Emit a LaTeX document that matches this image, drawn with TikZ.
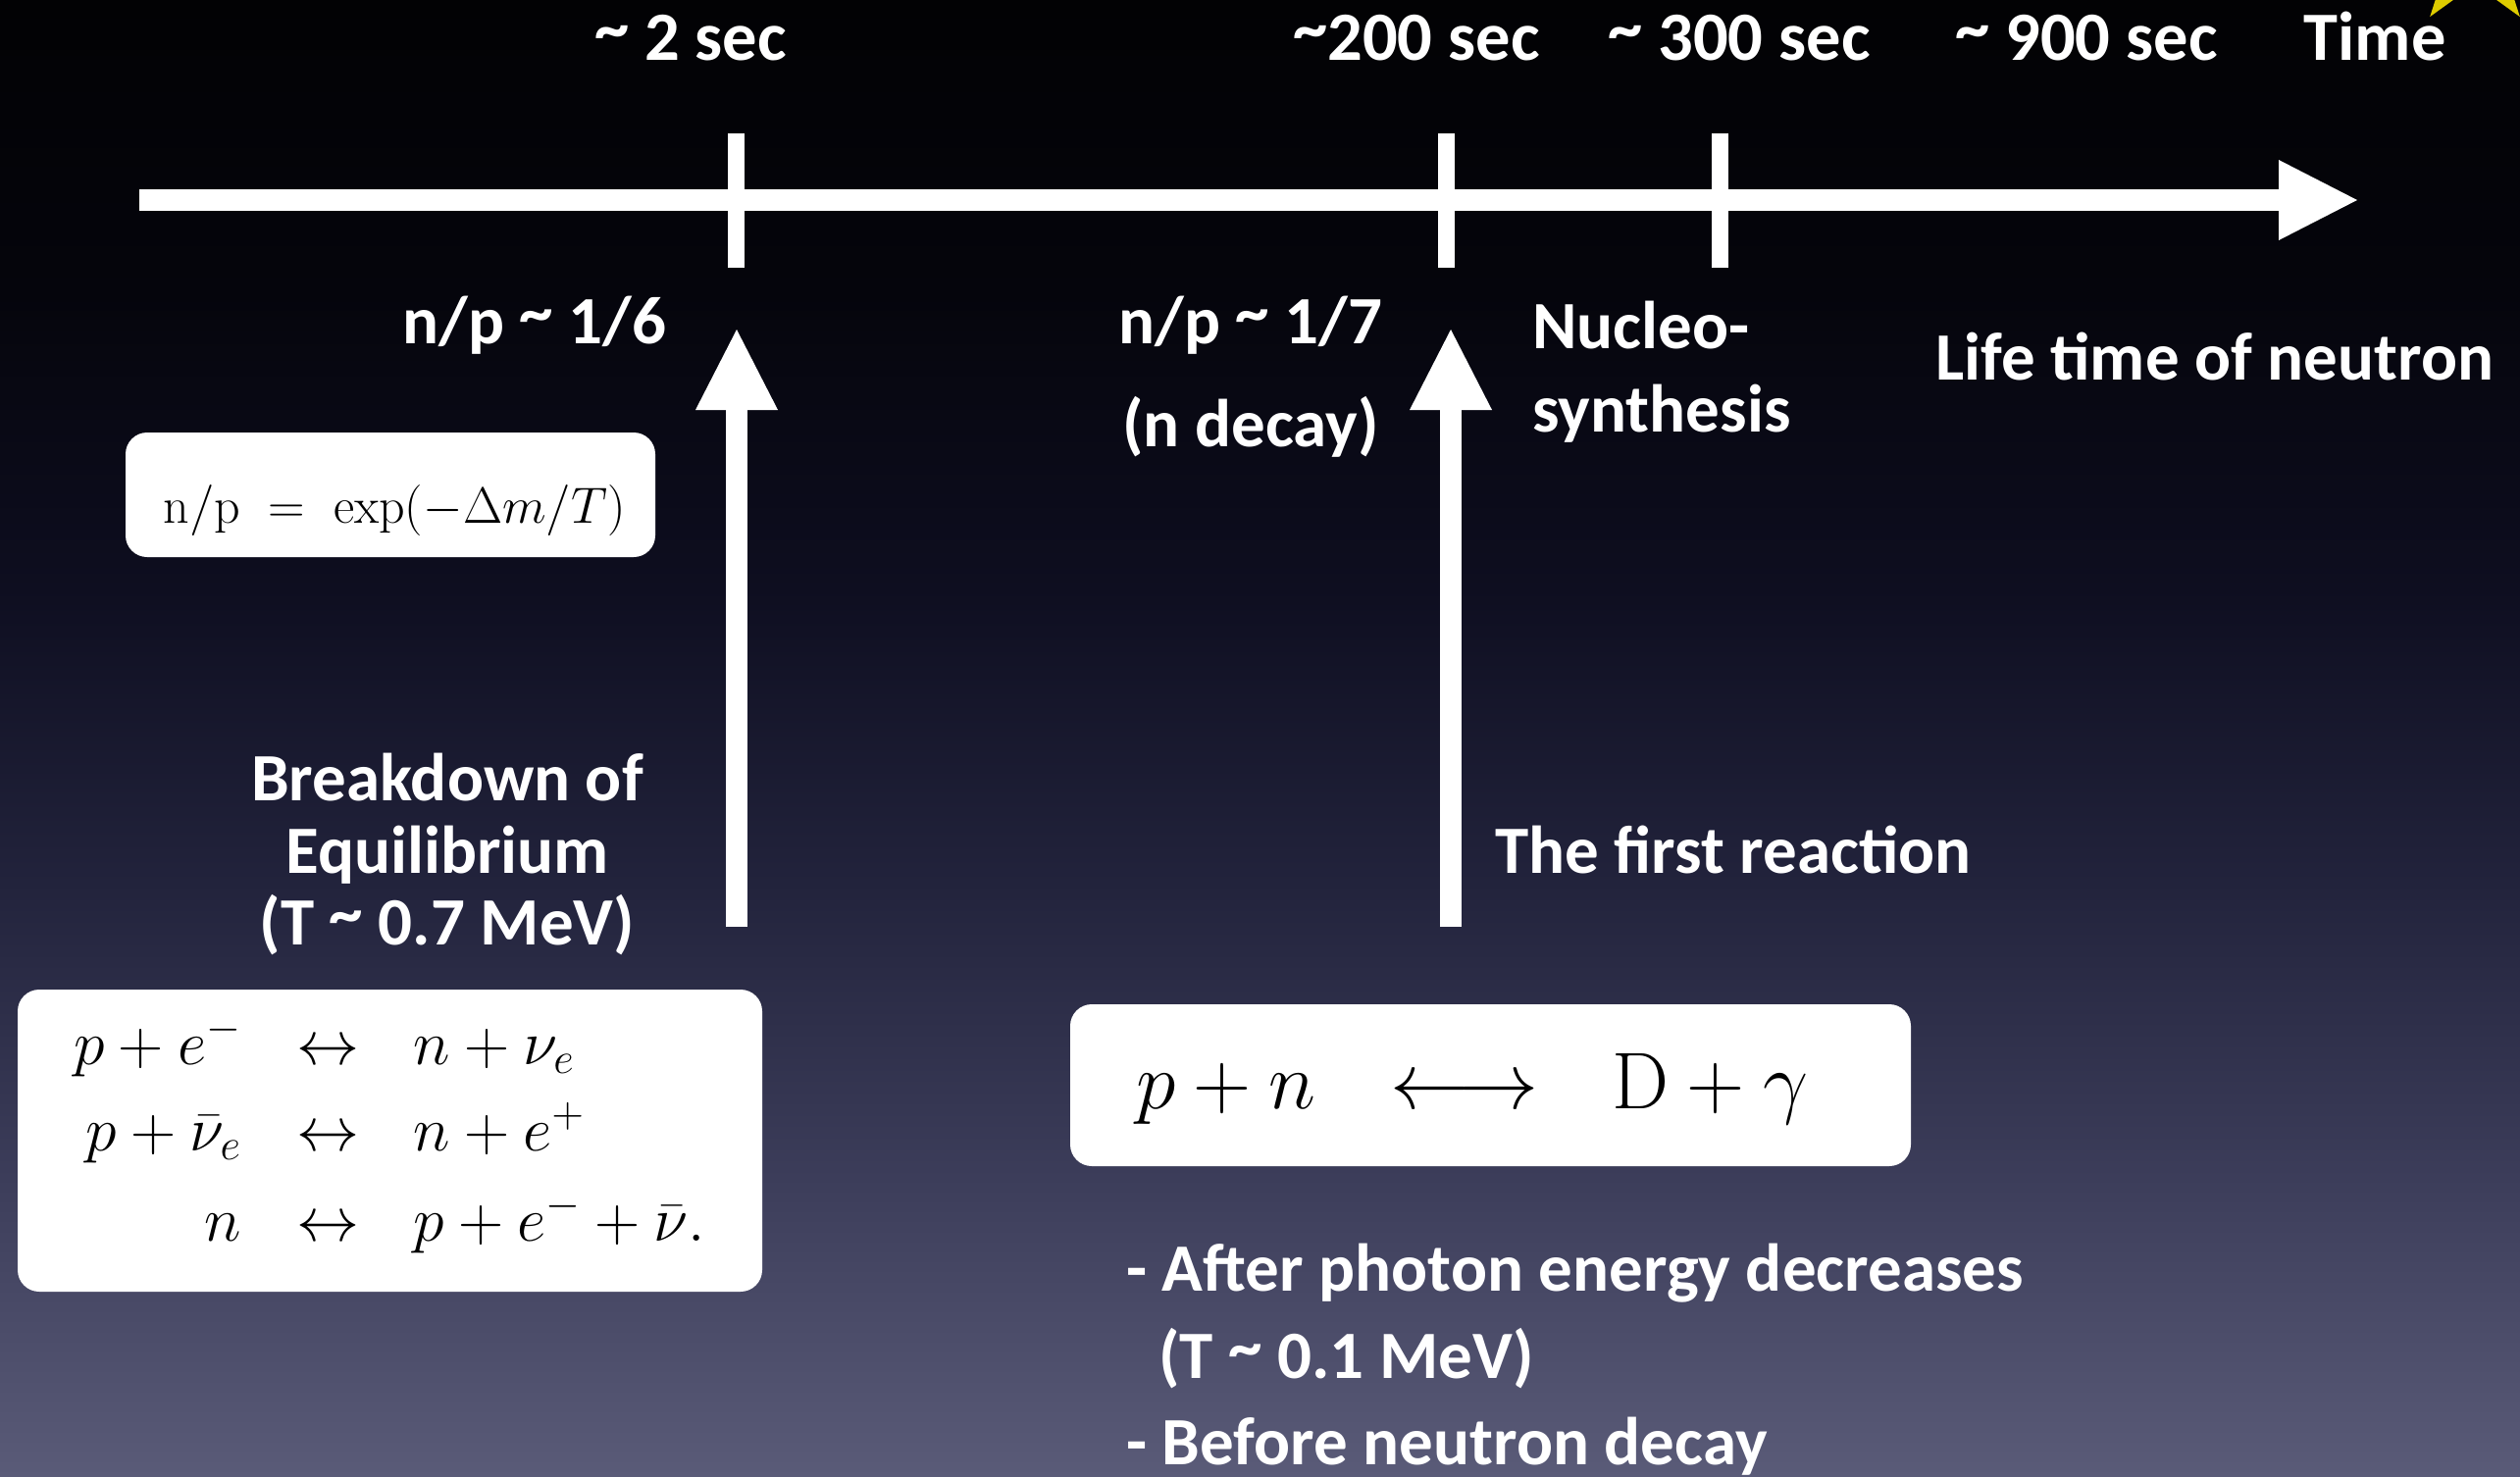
\RequirePackage{fix-cm}
\documentclass[tikz,border=0pt]{standalone}
\usepackage[no-math]{fontspec}
\newfontfamily\slidefont{Carlito}
\usetikzlibrary{arrows.meta}

\definecolor{bgA}{RGB}{2,2,4}
\definecolor{bgB}{RGB}{5,5,12}
\definecolor{bgC}{RGB}{14,14,32}
\definecolor{bgD}{RGB}{34,35,60}
\definecolor{bgE}{RGB}{60,61,90}
\definecolor{bgF}{RGB}{90,91,120}
\definecolor{staryellow}{RGB}{222,204,0}

% raised tilde, as set in the slide font
\newcommand{\tld}{\raisebox{0.13em}{\textasciitilde}}

\begin{document}
\begin{tikzpicture}[x=1pt,y=1pt,
  lbl/.style={text=white, inner sep=0pt, font=\slidefont\bfseries\fontsize{69}{80}\selectfont},
  toplbl/.style={lbl, font=\slidefont\bfseries\fontsize{70.5}{82}\selectfont, anchor=base},
  whitebox/.style={fill=white, rounded corners=22pt, inner sep=0pt},
  eqtext/.style={text=black, inner sep=0pt, font=\fontsize{64}{88}\selectfont},
  tickbar/.style={draw=white, line width=17pt},
  bigarrow/.style={draw=white, line width=22pt,
    -{Triangle[width=84pt,length=82pt,line width=0pt]}},
]
% page and background
\useasboundingbox (0,0) rectangle (2569,-1506);
\fill[top color=bgA, bottom color=bgB] (0,0) rectangle (2569,-301);
\fill[top color=bgB, bottom color=bgC] (0,-300) rectangle (2569,-601);
\fill[top color=bgC, bottom color=bgD] (0,-600) rectangle (2569,-901);
\fill[top color=bgD, bottom color=bgE] (0,-900) rectangle (2569,-1201);
\fill[top color=bgE, bottom color=bgF] (0,-1200) rectangle (2569,-1506);

% star in the corner
\begin{scope}
  \clip (0,0) rectangle (2569,-1506);
  \fill[staryellow, shift={(2523,46)}]
    (90:78) -- (126:30) -- (162:78) -- (198:30) -- (234:78) -- (270:30)
    -- (306:78) -- (342:30) -- (18:78) -- (54:30) -- cycle;
\end{scope}

% time axis
\coordinate (axis0) at (142,-204);
\coordinate (axis1) at (2403,-204);
\draw[bigarrow, -{Triangle[width=82pt,length=80pt,line width=0pt]}] (axis0) -- (axis1);

\coordinate (k1a) at (750,-136);  \coordinate (k1b) at (750,-273);
\coordinate (k2a) at (1474,-136); \coordinate (k2b) at (1474,-273);
\coordinate (k3a) at (1753,-136); \coordinate (k3b) at (1753,-273);
\draw[tickbar] (k1a) -- (k1b);
\draw[tickbar] (k2a) -- (k2b);
\draw[tickbar] (k3a) -- (k3b);

% times
\node[toplbl] (t2)    at (704,-62)  {\tld{} 2 sec};
\node[toplbl] (t200)  at (1444,-62) {\tld200 sec};
\node[toplbl] (t300)  at (1773,-62) {\tld{} 300 sec};
\node[toplbl] (t900)  at (2127,-62) {\tld{} 900 sec};
\node[toplbl] (ttime) at (2421,-62) {Time};

% events below the axis
\node[lbl, anchor=base] (np6)  at (545,-350)  {n/p \tld{} 1/6};
\node[lbl, anchor=base] (np7)  at (1275,-350) {n/p \tld{} 1/7};
\node[lbl, anchor=base] (ndec) at (1275,-455) {(n decay)};
\node[lbl, anchor=base west] (nuc1) at (1562,-355) {Nucleo-};
\node[lbl, anchor=base west] (nuc2) at (1562,-440) {synthesis};
\node[lbl, anchor=base] (life) at (2258,-387) {Life time of neutron};

% upward arrows
\coordinate (up1s) at (751,-945);  \coordinate (up1e) at (751,-336);
\coordinate (up2s) at (1479,-945); \coordinate (up2e) at (1479,-336);
\draw[bigarrow] (up1s) -- (up1e);
\draw[bigarrow] (up2s) -- (up2e);

% freeze-out
\node[lbl, anchor=base] (brk1) at (456,-816) {Breakdown of};
\node[lbl, anchor=base] (brk2) at (456,-890) {Equilibrium};
\node[lbl, anchor=base] (brk3) at (456,-963) {(T \tld{} 0.7 MeV)};

\node[whitebox, minimum width=540pt, minimum height=127pt] (npbox) at (398,-504.5) {};
\node[eqtext, anchor=base, font=\fontsize{52}{62}\selectfont] (npeq) at (402,-533)
  {$\mathrm{n/p}\;=\;\exp(-\Delta m/T)$};

% weak interactions
\node[whitebox, minimum width=759pt, minimum height=308pt] (weakbox) at (397.5,-1163) {};
\node[eqtext, anchor=base west] (weakeq) at (75,-1085)
  {$\begin{array}[t]{@{}r@{\hspace{57pt}}c@{\hspace{55pt}}l@{}}
     p+e^- & \leftrightarrow & n+\nu_e \\
     p+\bar{\nu}_e & \leftrightarrow & n+e^+ \\[4pt]
     n & \leftrightarrow & p+e^-+\bar{\nu}.
   \end{array}$};

% deuterium
\node[lbl, anchor=base west] (first) at (1524,-890) {The first reaction};
\node[whitebox, minimum width=857pt, minimum height=165pt] (dbox) at (1519.5,-1106.5) {};
\node[eqtext, anchor=base west, font=\fontsize{82}{98}\selectfont] (deq) at (1158,-1130)
  {$p+n\hspace{53pt}\longleftrightarrow\hspace{53pt}\mathrm{D}+\gamma$};

\node[lbl, anchor=base west] (cond1) at (1148,-1316) {- After photon energy decreases};
\node[lbl, anchor=base west] (cond2) at (1181,-1405) {(T \tld{} 0.1 MeV)};
\node[lbl, anchor=base west] (cond3) at (1148,-1493) {- Before neutron decay};
\end{tikzpicture}
\end{document}
